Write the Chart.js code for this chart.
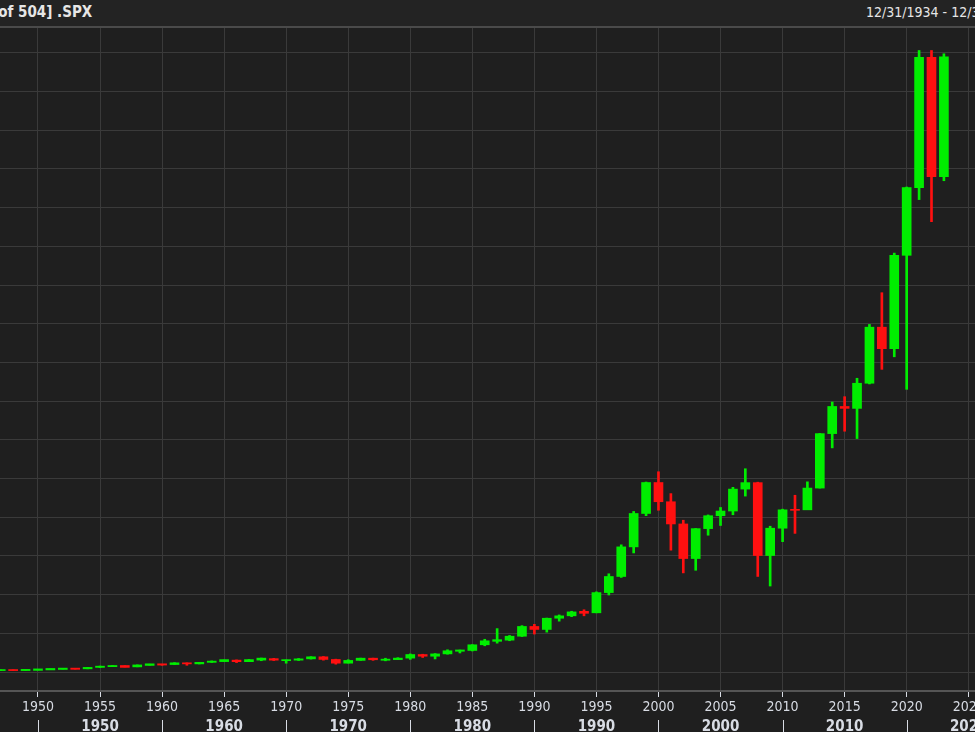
<!DOCTYPE html>
<html>
<head>
<meta charset="utf-8">
<script src="https://cdn.jsdelivr.net/npm/chart.js@4"></script>
<style>
  html, body { margin: 0; padding: 0; background: #1f1f1f; overflow: hidden; width: 975px; height: 732px; }
  #head { position: absolute; left: 0; top: 0; width: 975px; height: 26px; background: #232323; border-bottom: 2px solid #4a4a4a; font-family: "DejaVu Sans Condensed", "DejaVu Sans", sans-serif; color: #e6e6e6; font-size: 15px; }
  #head .l { position: absolute; left: -22px; top: 3px; font-weight: bold; white-space: nowrap; }
  #head .r { position: absolute; left: 866px; top: 4px; white-space: nowrap; font-size: 14px; }
  #wrap { position: absolute; left: 0; top: 28px; width: 1000px; height: 750px; }
</style>
</head>
<body>
<div id="head"><span class="l">[1 of 504] .SPX</span><span class="r">12/31/1934 - 12/31/2023</span></div>
<div id="wrap"><canvas id="c" width="1000" height="750"></canvas></div>
<script>
// yearly candles, S&P 500
var years = [];
for (var yr = 1946; yr <= 2023; yr++) years.push(yr);

var opens = [18.02, 15.30, 15.30, 15.20, 16.76, 20.41, 23.77, 26.57, 24.81, 35.98,
  45.48, 46.67, 39.99, 55.21, 59.89, 58.11, 71.55, 63.10, 75.02, 84.75,
  92.43, 80.33, 96.47, 103.86, 92.06, 92.15, 102.09, 118.05, 97.55, 68.56,
  90.19, 107.46, 95.10, 96.11, 107.94, 135.76, 122.55, 140.64, 164.93, 167.24,
  211.28, 242.17, 247.08, 277.72, 353.40, 330.22, 417.09, 435.71, 466.45, 459.27,
  615.93, 740.74, 970.43, 1229.23, 1469.25, 1320.28, 1148.08, 879.82, 1111.92, 1211.92,
  1248.29, 1418.30, 1468.36, 903.25, 1115.10, 1257.64, 1257.60, 1426.19, 1848.36, 2058.90,
  2043.94, 2238.83, 2673.61, 2506.85, 3230.78, 3756.07, 4766.18, 3839.50];
var closes = [15.30, 15.30, 15.20, 16.76, 20.41, 23.77, 26.57, 24.81, 35.98, 45.48,
  46.67, 39.99, 55.21, 59.89, 58.11, 71.55, 63.10, 75.02, 84.75, 92.43,
  80.33, 96.47, 103.86, 92.06, 92.15, 102.09, 118.05, 97.55, 68.56, 90.19,
  107.46, 95.10, 96.11, 107.94, 135.76, 122.55, 140.64, 164.93, 167.24, 211.28,
  242.17, 247.08, 277.72, 353.40, 330.22, 417.09, 435.71, 466.45, 459.27, 615.93,
  740.74, 970.43, 1229.23, 1469.25, 1320.28, 1148.08, 879.82, 1111.92, 1211.92, 1248.29,
  1418.30, 1468.36, 903.25, 1115.10, 1257.64, 1257.60, 1426.19, 1848.36, 2058.90, 2043.94,
  2238.83, 2673.61, 2506.85, 3230.78, 3756.07, 4766.18, 3839.50, 4769.83];
var highs = [19.25, 16.20, 17.06, 16.79, 20.43, 23.85, 26.59, 26.66, 36.09, 46.41,
  49.74, 49.13, 55.21, 60.71, 60.39, 72.64, 71.13, 75.18, 86.28, 92.63,
  94.06, 97.59, 108.37, 106.16, 93.46, 104.77, 119.12, 120.24, 99.80, 95.61,
  107.83, 107.97, 106.99, 111.27, 140.52, 138.12, 143.02, 172.65, 170.41, 212.02,
  254.00, 336.77, 283.66, 359.80, 369.78, 418.32, 442.65, 471.29, 482.85, 621.69,
  761.75, 986.25, 1244.93, 1473.10, 1552.87, 1383.37, 1176.97, 1112.56, 1217.90, 1275.80,
  1431.81, 1576.09, 1471.77, 1130.38, 1262.60, 1370.58, 1474.51, 1849.44, 2093.55, 2134.72,
  2277.53, 2694.97, 2940.91, 3247.93, 3760.20, 4818.62, 4818.62, 4793.30];
var lows = [14.12, 13.71, 13.84, 13.55, 16.65, 20.69, 23.09, 22.71, 24.80, 34.58,
  43.11, 38.98, 40.33, 53.58, 52.30, 57.57, 52.32, 62.69, 74.32, 81.60,
  73.20, 80.38, 87.72, 89.20, 68.61, 89.44, 100.31, 92.16, 60.96, 70.04,
  90.58, 90.71, 86.90, 96.13, 98.22, 112.77, 101.44, 138.34, 147.82, 163.36,
  203.49, 223.92, 242.63, 275.31, 294.51, 309.35, 394.50, 429.29, 435.86, 459.14,
  597.29, 733.54, 923.32, 1212.19, 1254.07, 944.75, 768.63, 788.90, 1060.72, 1136.22,
  1219.29, 1364.05, 741.02, 666.79, 1010.91, 1074.77, 1258.86, 1426.19, 1737.92, 1867.01,
  1810.10, 2233.62, 2346.58, 2443.96, 2191.86, 3662.71, 3491.58, 3808.86];

var decadeTicks = [1950, 1960, 1970, 1980, 1990, 2000, 2010, 2020];
var gridSteps = [0, 300, 600, 900, 1200, 1500, 1800, 2100, 2400, 2700, 3000, 3300, 3600, 3900, 4200, 4500, 4800];

var up = "#00ee00", down = "#ff1010";
var candleColors = years.map(function (y, i) { return closes[i] >= opens[i] ? up : down; });
var wickData = years.map(function (y, i) { return { x: y, y: [lows[i], highs[i]] }; });
var bodyData = years.map(function (y, i) {
  var a = Math.min(opens[i], closes[i]), b = Math.max(opens[i], closes[i]);
  if (b - a < 8) { a -= 4; b += 4; } // keep tiny candles visible
  return { x: y, y: [a, b] };
});

var axisFont = { family: "'DejaVu Sans Condensed', 'DejaVu Sans', sans-serif", size: 14 };

// little separators between decades on the lower axis row
var decadeMarks = {
  id: "decadeMarks",
  afterDraw: function (chart) {
    var ctx = chart.ctx, s = chart.scales.x2;
    ctx.save();
    ctx.strokeStyle = "#d8dce4";
    ctx.lineWidth = 1;
    decadeTicks.forEach(function (d) {
      var px = Math.round(s.getPixelForValue(d)) + 0.5;
      ctx.beginPath();
      ctx.moveTo(px, s.top + 2);
      ctx.lineTo(px, s.top + 20);
      ctx.stroke();
    });
    ctx.restore();
  }
};

new Chart(document.getElementById("c"), {
  type: "bar",
  data: {
    datasets: [
      { data: wickData, backgroundColor: candleColors, barThickness: 2, grouped: false, order: 2 },
      { data: bodyData, backgroundColor: candleColors, barThickness: 9, grouped: false, order: 1 }
    ]
  },
  options: {
    responsive: false,
    animation: false,
    layout: { padding: 0 },
    plugins: { legend: { display: false }, tooltip: { enabled: false } },
    scales: {
      x: {
        type: "linear", min: 1946.94, max: 2027.52, offset: false,
        afterBuildTicks: function (s) {
          s.ticks = [];
          for (var t = 1950; t <= 2025; t += 5) s.ticks.push({ value: t });
        },
        afterFit: function (s) { s.height = 27; },
        grid: { color: "#3a3a3a", tickColor: "#d8dce4", tickLength: 6, lineWidth: 1, offset: false },
        border: { color: "#555555", width: 2 },
        ticks: { color: "#d8dce4", font: axisFont, padding: 2, maxRotation: 0, autoSkip: false,
          callback: function (v) { return String(v); } }
      },
      x2: {
        type: "linear", position: "bottom", min: 1946.94, max: 2027.52, offset: false,
        afterBuildTicks: function (s) {
          s.ticks = decadeTicks.map(function (d) { return { value: d + 5 }; });
        },
        afterFit: function (s) { s.height = 60; },
        grid: { display: false, drawTicks: false, offset: false },
        border: { display: false },
        ticks: { color: "#d8dce4", font: { family: axisFont.family, size: 15, weight: "bold" }, padding: 0,
          maxRotation: 0, autoSkip: false,
          callback: function (v) { return String(v - 5); } }
      },
      y: {
        min: -147, max: 4993,
        afterBuildTicks: function (s) { s.ticks = gridSteps.map(function (v) { return { value: v }; }); },
        afterFit: function (s) { s.width = 0; },
        grid: { color: "#3a3a3a", drawTicks: false },
        border: { display: false },
        ticks: { display: false }
      }
    }
  },
  plugins: [decadeMarks]
});
</script>
</body>
</html>
